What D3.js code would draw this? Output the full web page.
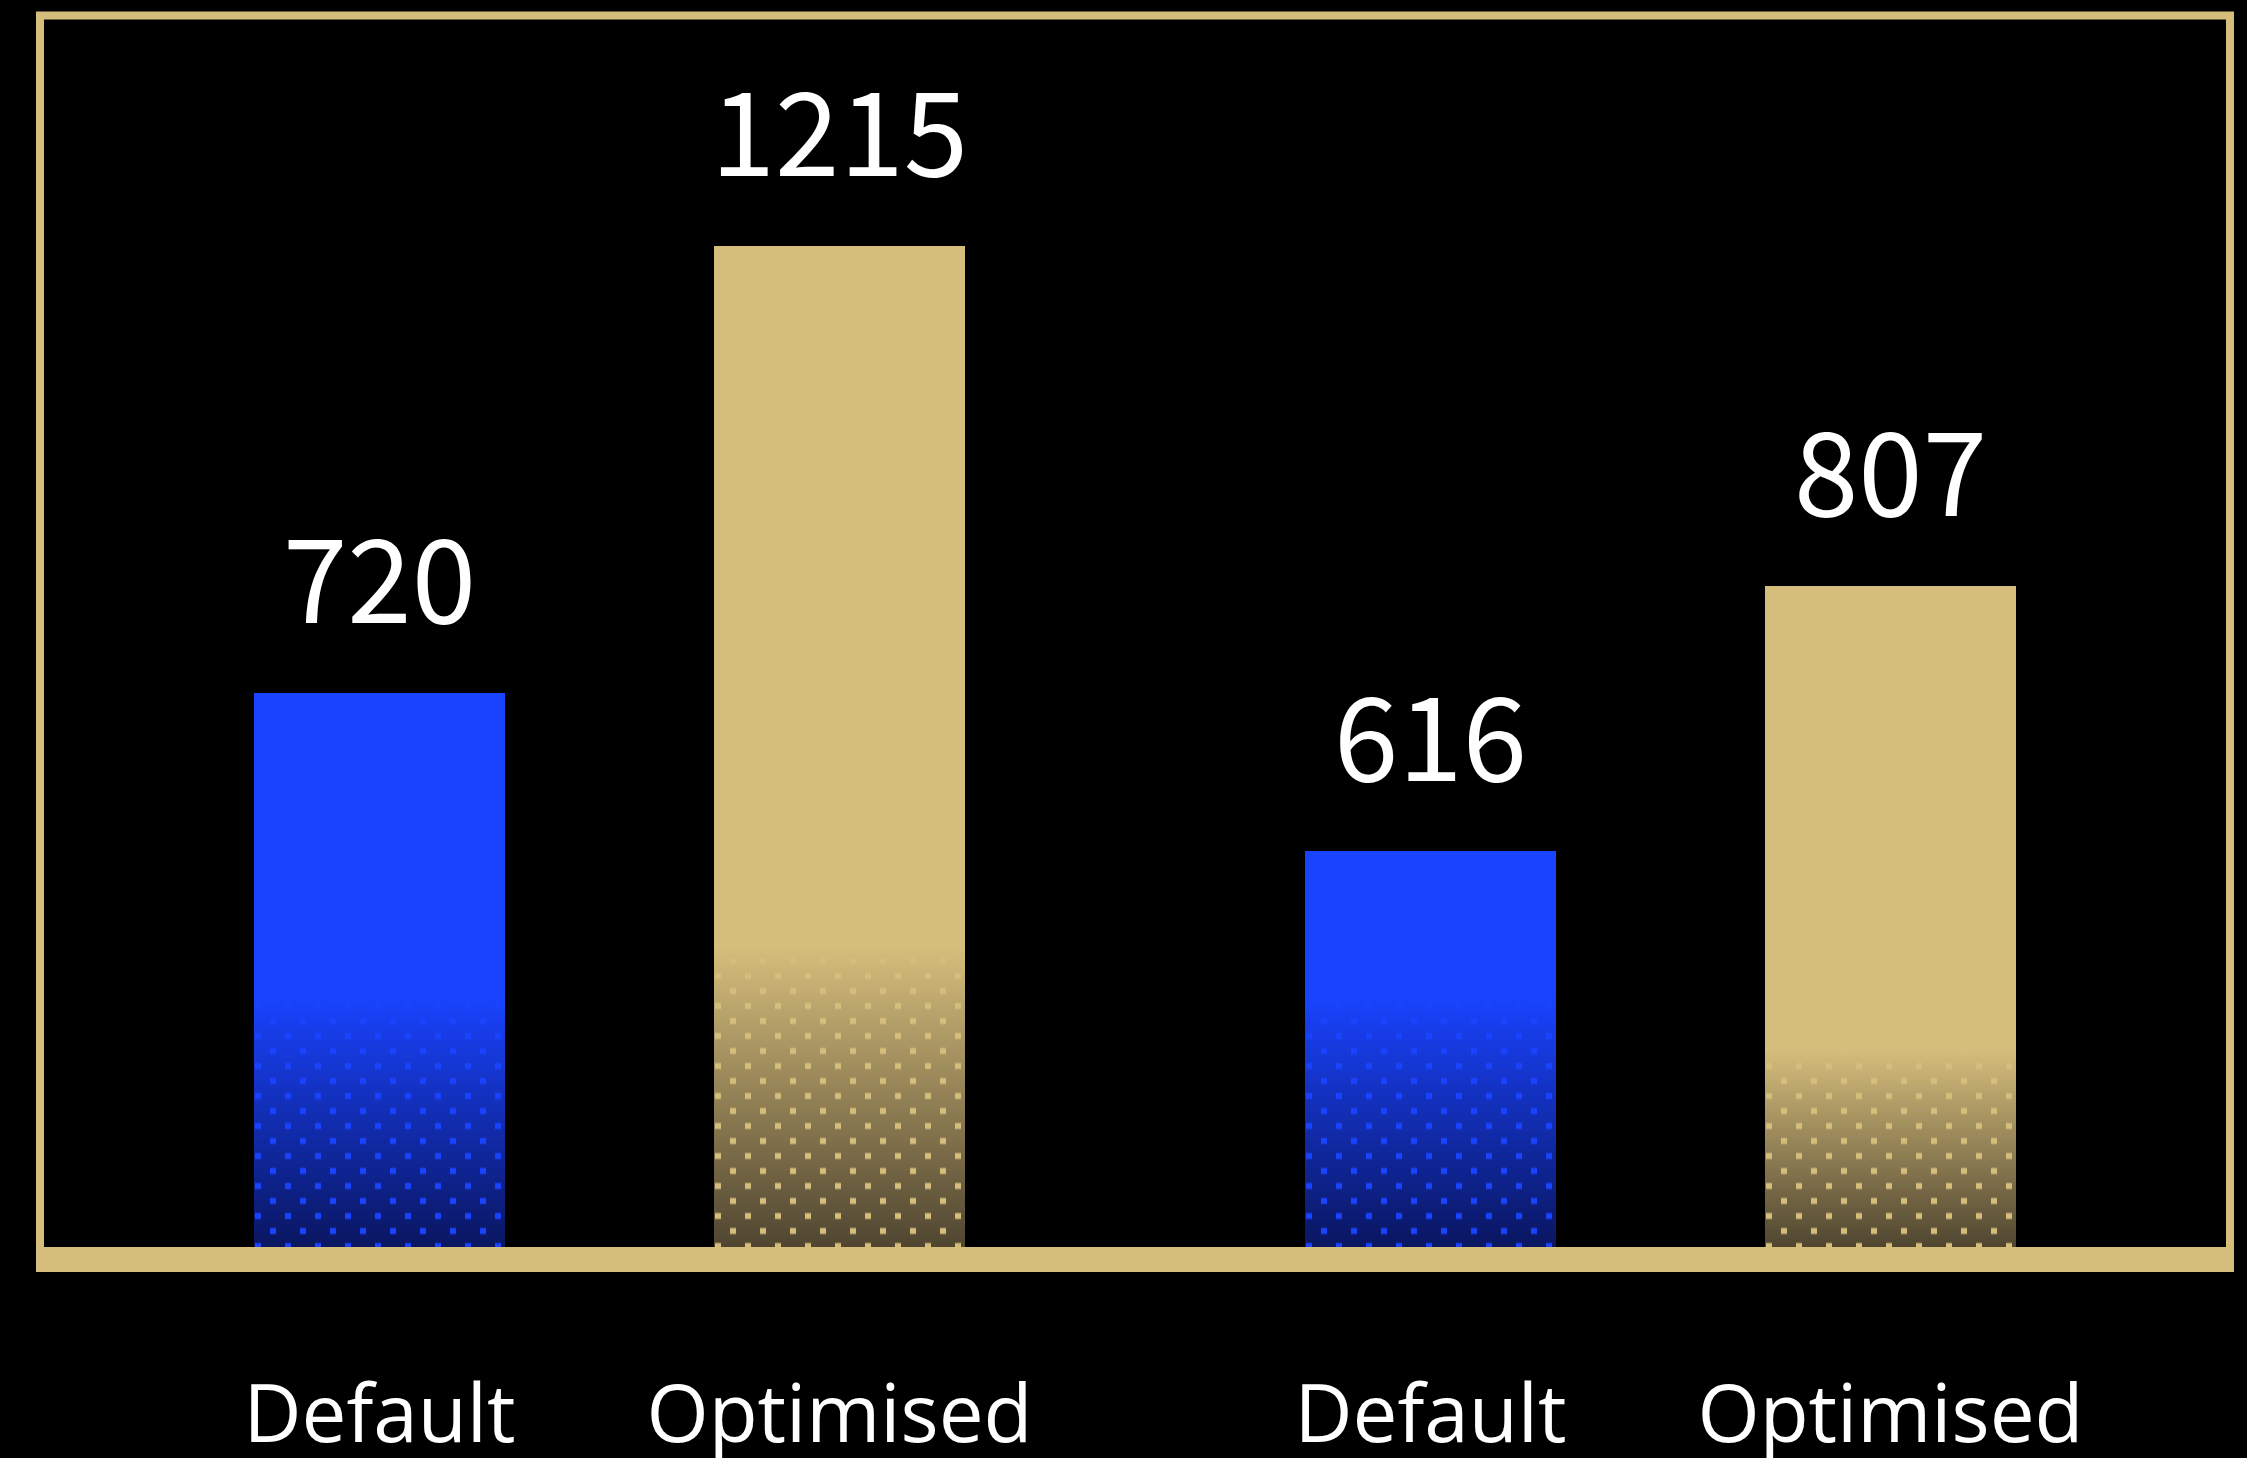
<!DOCTYPE html>
<html>
<head>
<meta charset="utf-8">
<script src="https://cdn.jsdelivr.net/npm/d3@7"></script>
<style>
  html, body { margin: 0; padding: 0; background: #000; }
  svg { display: block; }
</style>
</head>
<body>
<script>
// ---- data ----
const groups = ["Group 1", "Group 2"];
const seriesNames = ["Default", "Optimised"];
const groupOf = ["Group 1", "Group 1", "Group 2", "Group 2"];
const categories = ["Default", "Optimised", "Default", "Optimised"];
const values = [720, 1215, 616, 807];
const valueLabels = ["720", "1215", "616", "807"];

// ---- layout ----
const W = 2247, H = 1458;
const GOLD = "#d5bd7b";
const BLUE = "#1943ff";
const baseY = 1248;

const svg = d3.select("body").append("svg")
  .attr("width", W).attr("height", H)
  .style("background", "#000");

const x0 = d3.scaleBand().domain(groups).range([40, 2230])
  .paddingInner(0.323).paddingOuter(0.204);
const x1 = d3.scaleBand().domain(seriesNames).range([0, x0.bandwidth()])
  .paddingInner(0.454).paddingOuter(0);
// the drawn bars are not proportional to the labels; a power scale fits them
const y = d3.scalePow().exponent(-0.5).domain([436, 1211]).range([baseY, 248]);

const color = d3.scaleOrdinal().domain(seriesNames).range([BLUE, GOLD]);

const data = values.map((v, i) => ({
  i, v, label: valueLabels[i], cat: categories[i], group: groupOf[i],
  x: Math.round(x0(groupOf[i]) + x1(categories[i])), w: Math.round(x1.bandwidth()),
  top: Math.round(y(v))
}));

const defs = svg.append("defs");
// gradients
const gBlue = defs.append("linearGradient").attr("id", "grad-Default")
  .attr("gradientUnits", "userSpaceOnUse")
  .attr("x1", 0).attr("x2", 0).attr("y1", 995).attr("y2", baseY);
gBlue.append("stop").attr("offset", 0).attr("stop-color", BLUE);
gBlue.append("stop").attr("offset", 1).attr("stop-color", "#0a1660");

const gGold = defs.append("linearGradient").attr("id", "grad-Optimised")
  .attr("x1", 0).attr("x2", 0).attr("y1", 0).attr("y2", 1);
gGold.append("stop").attr("offset", 0.7).attr("stop-color", GOLD);
gGold.append("stop").attr("offset", 1).attr("stop-color", "#4f4530");

// dot patterns per bar
data.forEach(d => {
  const p = defs.append("pattern").attr("id", "dots-" + d.i)
    .attr("patternUnits", "userSpaceOnUse")
    .attr("x", d.x).attr("y", baseY - 2 - 22.5)
    .attr("width", 30).attr("height", 30);
  p.append("rect").attr("x", 1).attr("y", 19.5).attr("width", 6).attr("height", 6)
    .attr("fill", color(d.cat));
  p.append("rect").attr("x", 16).attr("y", 4.5).attr("width", 6).attr("height", 6)
    .attr("fill", color(d.cat));
});

// frame
svg.append("path")
  .attr("d", `M40,${baseY} L40,15.5 L2230,15.5 L2230,${baseY}`)
  .attr("fill", "none").attr("stroke", GOLD).attr("stroke-width", 8);

// bars
const bars = svg.append("g").attr("shape-rendering", "crispEdges")
  .selectAll("g").data(data).join("g");
bars.append("rect")
  .attr("x", d => d.x).attr("width", d => d.w)
  .attr("y", d => d.top).attr("height", d => baseY - d.top)
  .attr("fill", d => `url(#grad-${d.cat})`);
bars.append("rect")
  .attr("x", d => d.x).attr("width", d => d.w)
  .attr("y", d => d.top + 2).attr("height", d => baseY - d.top - 2)
  .attr("fill", d => `url(#dots-${d.i})`);

// baseline
svg.append("rect").attr("x", 36).attr("y", 1247).attr("width", 2198).attr("height", 25)
  .attr("fill", GOLD);

// value labels
svg.append("g").selectAll("text").data(data).join("text")
  .attr("x", d => d.x + d.w / 2)
  .attr("y", d => d.top - 70)
  .attr("text-anchor", "middle")
  .attr("font-family", "'Noto Sans CJK SC', 'Noto Sans', sans-serif")
  .attr("font-size", 116)
  .attr("fill", "#fff")
  .text(d => d.label);

// category labels
svg.append("g").selectAll("text").data(data).join("text")
  .attr("x", d => d.x + d.w / 2)
  .attr("y", 1442)
  .attr("text-anchor", "middle")
  .attr("font-family", "'Open Sans', sans-serif")
  .attr("font-size", 80)
  .attr("fill", "#fff")
  .text(d => d.cat);
</script>
</body>
</html>
